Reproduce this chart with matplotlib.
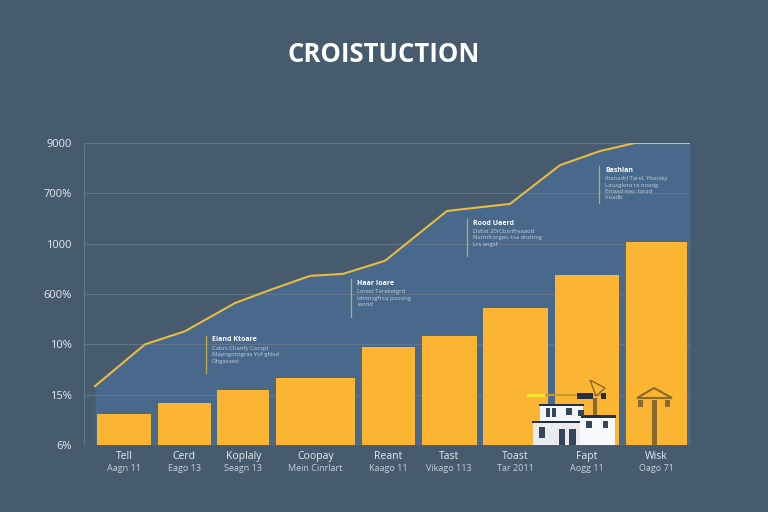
import matplotlib

matplotlib.use("Agg")
import matplotlib.pyplot as plt  # noqa: E402
from matplotlib.patches import Polygon, Rectangle  # noqa: E402

BG = "#475b6f"
FILL = "#48688c"
GRID = "#62768b"
BAR = "#fbb533"
LINE = "#e8bb42"
TEXT = "#e6ebf0"
SUB = "#c4d0dc"
CRANE = "#8a6a2a"
DARK = "#34465a"

# chart data
names = ["Tell", "Cerd", "Koplaly", "Coopay", "Reant", "Tast", "Toast", "Fapt", "Wisk"]
subs = ["Aagn 11", "Eago 13", "Seagn 13", "Mein Cinrlart", "Kaago 11",
        "Vikago 113", "Tar 2011", "Aogg 11", "Oago 71"]
bar_widths = [54, 53, 52, 79, 53, 55, 65, 64, 61]
bar_gap = 6.7
bar_values = [62, 84, 109, 133, 195, 217, 272, 338, 404]

line_x = [11, 61, 101, 151, 186, 226, 259, 301, 363, 426, 476, 516, 551, 606]
line_y = [117, 200, 226, 282, 308, 336, 340, 366, 465, 479, 556, 584, 600, 600]

y_ticks = [0, 100, 200, 300, 400, 500, 600]
y_labels = ["6%", "15%", "10%", "600%", "1000", "700%", "9000"]

title = "CROISTUCTION"
notes = [
    (122, 143, "Eiand Ktoare", "Cabrs Chanfy Cocspl\nMapngorpgras Yof ghlsd\nOhgasaed"),
    (267, 255, "Haar Ioare", "Lmast Taraketgrd\nIdmnsgfrsq pooong\nIaond"),
    (383, 375, "Rood Uaerd", "Dsbst 20rCbsrifryaaod\nNxtmfrorgas, tsa dnotrsg\nLrs angsf"),
    (515, 480, "Bashlan", "Ihaoadrl Tarel, Ybarsky\nLaoaglora ra noadg\nEtraad eao, tarad\nVoadb"),
]


def px(x, y):
    """Reference pixel to data coordinates (axes spans x 84-690, y 445-143)."""
    return x - 84, (445 - y) * 600 / 302


def box(ax, x0, y0, x1, y1, color, z=5):
    (a, b), (c, d) = px(x0, y0), px(x1, y1)
    ax.add_patch(Rectangle((a, d), c - a, b - d, color=color, lw=0, zorder=z))


def poly(ax, pts, color, z=5, fill=True, lw=1.0):
    ax.add_patch(Polygon([px(*p) for p in pts], closed=True, fill=fill,
                         facecolor=color if fill else "none", edgecolor=color,
                         lw=lw, zorder=z))


def draw_building(ax):
    box(ax, 540, 405, 583, 422, "#f4f5f7", 5)
    box(ax, 533, 422, 580, 446, "#e9ebee", 5)
    box(ax, 580, 417, 615, 446, "#f8f9fa", 5)
    box(ax, 539, 404, 584, 406, "#22303f", 6)
    box(ax, 532, 421, 580, 423, "#22303f", 6)
    box(ax, 581, 415, 616, 418, "#22303f", 6)
    for x0, y0, x1, y1 in [(546, 408, 550, 417), (552, 408, 556, 417), (566, 408, 572, 415),
                           (578, 410, 584, 416), (539, 427, 545, 438), (586, 421, 592, 428),
                           (603, 421, 608, 428), (559, 429, 565, 446), (569, 429, 576, 446)]:
        box(ax, x0, y0, x1, y1, DARK, 7)


def draw_cranes(ax):
    # crane behind the building
    box(ax, 593, 398, 597, 415, CRANE, 4)
    box(ax, 540, 394, 603, 396, "#c49a30", 4)
    box(ax, 527, 394, 545, 397, "#f6e83a", 5)
    box(ax, 577, 393, 593, 399, "#26303c", 5)
    box(ax, 601, 393, 606, 399, "#26303c", 5)
    poly(ax, [(590, 380), (605, 388), (596, 396)], CRANE, 4, fill=False)
    # crane on the last bar
    box(ax, 652, 400, 657, 445, CRANE, 4)
    poly(ax, [(654, 388), (637, 398), (672, 398)], CRANE, 4, fill=False, lw=1.5)
    box(ax, 638, 400, 643, 407, CRANE, 4)
    box(ax, 665, 400, 670, 407, CRANE, 4)


def main():
    plt.rcParams["font.family"] = ["Open Sans", "DejaVu Sans"]
    fig = plt.figure(figsize=(7.68, 5.12), dpi=100, facecolor=BG)
    ax = fig.add_axes([84 / 768, (512 - 445) / 512, 606 / 768, 302 / 512], facecolor=BG)
    ax.set_xlim(0, 606)
    ax.set_ylim(0, 600)

    ax.fill_between(line_x, line_y, 0, color=FILL, lw=0, zorder=1)
    ax.set_yticks(y_ticks)
    ax.set_yticklabels(y_labels, fontsize=8, color=TEXT)
    ax.grid(axis="y", color=GRID, linewidth=0.9, zorder=2)
    ax.set_axisbelow(False)
    for gl in ax.get_ygridlines():
        gl.set_zorder(2)

    # bars run on from each other with a fixed gap
    lefts = []
    pos = 13.0
    for w in bar_widths:
        lefts.append(pos)
        pos += w + bar_gap
    ax.bar(lefts, bar_values, width=bar_widths, align="edge", color=BAR, lw=0, zorder=3)
    ax.plot(line_x, line_y, color=LINE, lw=1.5, zorder=4, solid_joinstyle="round")

    centers = [l + w / 2 for l, w in zip(lefts, bar_widths)]
    ax.set_xticks(centers)
    ax.set_xticklabels([])
    for c, name, sub in zip(centers, names, subs):
        ax.text(c, -22, name, ha="center", va="center", fontsize=7.5, color=TEXT)
        ax.text(c, -46, sub, ha="center", va="center", fontsize=6.5, color=SUB)

    for x, y, head, body in notes:
        ax.plot([x, x], [y, y + 74], color=LINE, lw=0.9, alpha=0.8, zorder=4)
        ax.text(x + 6, y + 66, head, fontsize=5, fontweight="bold", color="white",
                va="center", zorder=5)
        ax.text(x + 6, y + 54, body, fontsize=4.2, color=SUB, va="top",
                linespacing=1.35, zorder=5)

    ax.tick_params(length=0, pad=9)
    ax.spines[["top", "right", "bottom"]].set_visible(False)
    ax.spines["left"].set_color(GRID)
    draw_cranes(ax)
    draw_building(ax)

    fig.text(384 / 768, 1 - 54 / 512, title, ha="center", va="center", fontsize=18.5,
             fontweight="bold", color="white")
    fig.savefig("out.png", dpi=100, facecolor=BG)
    plt.close(fig)


main()
